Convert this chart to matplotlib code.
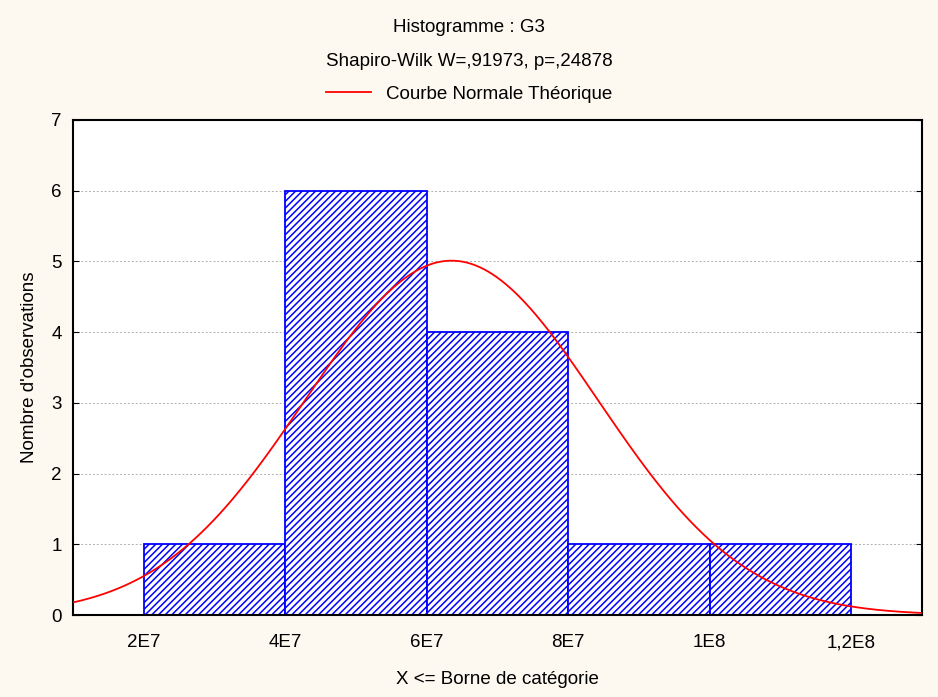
import numpy as np
import matplotlib.pyplot as plt

# bornes de catégorie et effectifs
bin_edges = [2e7, 4e7, 6e7, 8e7, 1e8, 1.2e8]
counts = [1, 6, 4, 1, 1]
# paramètres de la courbe normale
mean_val = 6.35e7
std_val = 2.07e7
n_obs = 13
x_ticks = [2e7, 4e7, 6e7, 8e7, 1e8, 1.2e8]
x_labels = ['2E7', '4E7', '6E7', '8E7', '1E8', '1,2E8']
y_ticks = [0, 1, 2, 3, 4, 5, 6, 7]

plt.rcParams['font.family'] = ['Liberation Sans', 'DejaVu Sans']
plt.rcParams['hatch.linewidth'] = 1.1
plt.rcParams['hatch.color'] = '#3a3aff'

fs = 13.5
fig = plt.figure(figsize=(9.38, 6.97), dpi=100, facecolor='#fdf9f0')
ax = fig.add_axes([73 / 938, 1 - 615 / 697, (922 - 73) / 938, (615 - 120) / 697])
ax.set_facecolor('white')

widths = np.diff(bin_edges)
ax.bar(bin_edges[:-1], counts, width=widths, align='edge', color='white',
       edgecolor='#0000ff', linewidth=1.3, hatch='/////', zorder=2)

xs = np.linspace(1e7, 1.3e8, 400)
bw = widths[0]
ys = n_obs * bw / (std_val * np.sqrt(2 * np.pi)) * np.exp(-0.5 * ((xs - mean_val) / std_val) ** 2)
line, = ax.plot(xs, ys, color='#ff0000', linewidth=1.3, zorder=3)

ax.set_xlim(1e7, 1.3e8)
ax.set_ylim(0, 7)
ax.set_xticks(x_ticks)
ax.set_xticklabels(x_labels)
ax.set_yticks(y_ticks)
ax.tick_params(axis='both', direction='in', labelsize=fs, length=4, pad=8)
ax.tick_params(axis='y', right=True)
ax.tick_params(axis='x', length=0, pad=14)
ax.grid(axis='y', color='#b0b0b0', linestyle=(0, (2, 2)), linewidth=0.7, zorder=1)
ax.set_axisbelow(True)
for s in ax.spines.values():
    s.set_linewidth(1.5)
    s.set_color('black')

ax.set_xlabel('X <= Borne de catégorie', fontsize=fs, labelpad=14)
ax.set_ylabel("Nombre d'observations", fontsize=fs, labelpad=10)

fig.text(0.5, 1 - 28 / 697, 'Histogramme : G3', ha='center', va='center', fontsize=fs)
fig.text(0.5, 1 - 61 / 697, 'Shapiro-Wilk W=,91973, p=,24878', ha='center', va='center', fontsize=fs)
fig.legend([line], ['Courbe Normale Théorique'], loc='center', bbox_to_anchor=(0.5, 1 - 94 / 697),
           frameon=False, fontsize=fs, handlelength=2.4)

fig.savefig('out.png', dpi=100, facecolor=fig.get_facecolor())
